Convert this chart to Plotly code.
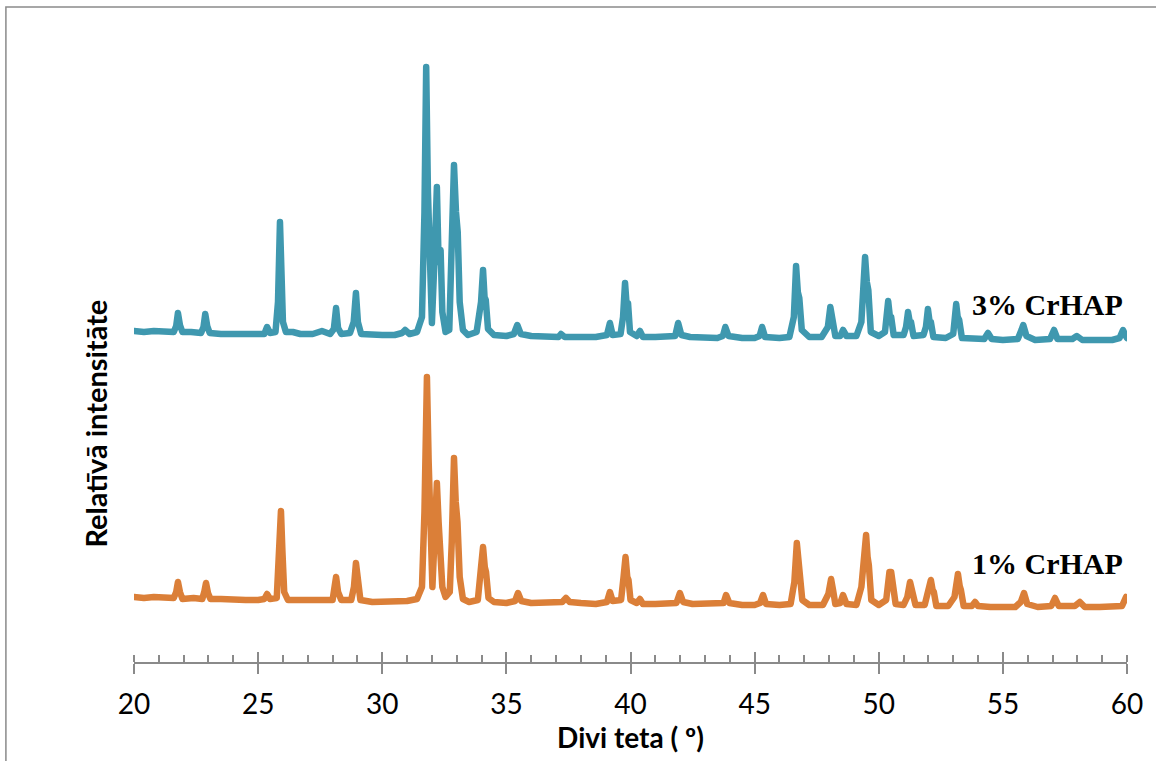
import plotly.graph_objects as go

# ---- data (2-theta in degrees, relative intensity in arbitrary units) ----
two_theta_3 = [20.00, 20.40, 20.80, 21.20, 21.60, 21.70, 21.77, 21.85, 21.95, 22.30, 22.70, 22.80, 22.87, 22.95, 23.05,
               23.50, 24.00, 24.50, 25.00, 25.25, 25.36, 25.48, 25.70, 25.80, 25.88, 25.94, 26.00, 26.12, 26.40, 26.70,
               27.20, 27.57, 27.90, 28.05, 28.14, 28.22, 28.35, 28.70, 28.85, 28.94, 29.02, 29.15, 29.60, 30.00, 30.50,
               30.80, 30.92, 31.10, 31.40, 31.60, 31.70, 31.77, 31.84, 31.92, 32.00, 32.10, 32.20, 32.27, 32.35, 32.42,
               32.55, 32.70, 32.80, 32.89, 32.97, 33.04, 33.12, 33.25, 33.45, 33.80, 33.98, 34.06, 34.12, 34.17, 34.26,
               34.50, 35.00, 35.30, 35.44, 35.58, 36.00, 36.60, 37.10, 37.20, 37.35, 38.00, 38.60, 39.05, 39.17, 39.28,
               39.60, 39.70, 39.78, 39.85, 39.90, 39.98, 40.25, 40.38, 40.50, 41.00, 41.50, 41.80, 41.92, 42.05, 42.40,
               43.00, 43.50, 43.72, 43.82, 43.95, 44.50, 45.00, 45.20, 45.30, 45.42, 46.00, 46.40, 46.58, 46.67, 46.74,
               46.80, 46.90, 47.20, 47.70, 47.95, 48.05, 48.12, 48.16, 48.25, 48.45, 48.56, 48.70, 49.10, 49.30, 49.45,
               49.52, 49.58, 49.68, 50.00, 50.25, 50.38, 50.45, 50.50, 50.60, 51.00, 51.10, 51.18, 51.25, 51.30, 51.40,
               51.80, 51.90, 51.98, 52.05, 52.10, 52.20, 52.70, 53.00, 53.12, 53.18, 53.24, 53.35, 53.80, 54.25, 54.40,
               54.55, 55.00, 55.60, 55.75, 55.82, 55.95, 56.30, 56.90, 57.06, 57.20, 57.80, 57.98, 58.20, 58.80, 59.40,
               59.70, 59.84, 59.95, 60.00]
intensity_3 = [331, 330, 331, 330, 330, 336, 349, 337, 330, 330, 329, 335, 348, 336, 329,
               328, 328, 327, 327, 328, 335, 329, 330, 360, 440, 380, 340, 330, 330, 328,
               328, 331, 328, 333, 354, 334, 328, 329, 340, 369, 340, 328, 327, 327, 327,
               329, 332, 328, 330, 345, 450, 595, 470, 370, 339, 400, 475, 400, 412, 350,
               330, 332, 400, 497, 450, 430, 360, 332, 327, 330, 360, 392, 365, 362, 333,
               327, 326, 328, 337, 328, 326, 326, 325, 328, 325, 325, 325, 327, 339, 327,
               328, 345, 379, 355, 359, 330, 326, 331, 325, 325, 325, 326, 339, 327, 325,
               325, 324, 326, 335, 326, 324, 324, 326, 335, 325, 324, 325, 345, 396, 370,
               364, 332, 325, 325, 335, 355, 340, 342, 326, 326, 332, 326, 326, 340, 405,
               380, 372, 330, 326, 330, 361, 345, 345, 327, 327, 335, 350, 340, 340, 326,
               327, 335, 353, 340, 340, 325, 324, 328, 358, 345, 342, 324, 323, 323, 329,
               323, 322, 323, 332, 337, 326, 322, 323, 332, 323, 323, 326, 322, 322, 322,
               324, 332, 326, 324]

two_theta_1 = [20.00, 20.40, 20.80, 21.20, 21.60, 21.70, 21.77, 21.85, 21.95, 22.40, 22.75, 22.83, 22.90, 22.98, 23.08,
               23.50, 24.00, 24.50, 25.00, 25.25, 25.36, 25.48, 25.75, 25.84, 25.92, 25.98, 26.05, 26.20, 26.60, 27.20,
               27.60, 28.00, 28.06, 28.14, 28.22, 28.35, 28.75, 28.86, 28.94, 29.02, 29.12, 29.60, 30.00, 30.50, 31.00,
               31.40, 31.60, 31.70, 31.80, 31.87, 31.94, 32.02, 32.10, 32.20, 32.27, 32.34, 32.42, 32.55, 32.72, 32.80,
               32.89, 32.96, 33.03, 33.12, 33.25, 33.50, 33.85, 33.98, 34.06, 34.13, 34.18, 34.28, 34.50, 35.00, 35.35,
               35.47, 35.60, 36.00, 36.60, 37.25, 37.40, 37.55, 38.00, 38.60, 39.05, 39.17, 39.28, 39.62, 39.72, 39.80,
               39.87, 39.92, 40.00, 40.25, 40.38, 40.50, 41.00, 41.50, 41.85, 41.99, 42.12, 42.50, 43.00, 43.50, 43.75,
               43.85, 43.98, 44.50, 45.00, 45.22, 45.34, 45.46, 46.00, 46.45, 46.60, 46.70, 46.76, 46.81, 46.92, 47.20,
               47.75, 47.97, 48.08, 48.16, 48.25, 48.45, 48.56, 48.70, 49.10, 49.30, 49.49, 49.55, 49.60, 49.70, 50.00,
               50.30, 50.43, 50.50, 50.55, 50.58, 50.68, 51.00, 51.15, 51.26, 51.33, 51.38, 51.48, 51.85, 51.98, 52.10,
               52.17, 52.22, 52.32, 52.80, 53.05, 53.19, 53.26, 53.31, 53.42, 53.75, 53.88, 54.00, 54.50, 55.00, 55.50,
               55.72, 55.85, 55.98, 56.40, 56.95, 57.10, 57.25, 57.90, 58.10, 58.30, 58.90, 59.50, 59.80, 59.96, 60.00]
intensity_1 = [65, 64, 65, 64, 64, 70, 80, 70, 63, 64, 63, 70, 79, 69, 63,
               63, 62, 62, 62, 63, 68, 63, 64, 100, 151, 110, 70, 62, 62, 61,
               61, 62, 72, 85, 70, 62, 62, 75, 99, 75, 62, 60, 60, 60, 61,
               63, 75, 150, 285, 200, 110, 75, 120, 179, 140, 110, 75, 65, 70, 120,
               204, 160, 140, 85, 63, 60, 62, 95, 115, 95, 90, 64, 60, 59, 61,
               69, 61, 59, 59, 60, 64, 60, 59, 58, 60, 70, 61, 62, 85, 105,
               85, 82, 62, 59, 63, 58, 58, 58, 59, 69, 60, 58, 58, 58, 59,
               67, 59, 57, 57, 59, 67, 58, 57, 58, 80, 119, 98, 92, 62, 57,
               57, 68, 83, 72, 58, 59, 67, 58, 57, 75, 127, 105, 97, 62, 57,
               62, 90, 90, 80, 74, 58, 57, 65, 80, 73, 70, 57, 57, 70, 82,
               72, 70, 56, 56, 65, 88, 76, 72, 56, 56, 60, 56, 55, 55, 55,
               60, 69, 58, 55, 56, 64, 56, 56, 60, 55, 55, 55, 56, 65, 62]

series_names = ["3% CrHAP", "1% CrHAP"]
series_colors = ["#3F98AF", "#DB7F38"]
x_ticks = [20, 25, 30, 35, 40, 45, 50, 55, 60]

fig = go.Figure()
fig.add_trace(go.Scatter(x=two_theta_3, y=intensity_3, mode="lines", name=series_names[0],
                         line=dict(color=series_colors[0], width=6.5)))
fig.add_trace(go.Scatter(x=two_theta_1, y=intensity_1, mode="lines", name=series_names[1],
                         line=dict(color=series_colors[1], width=6.5)))

label_font = dict(family="Liberation Serif", size=30, color="#000000")
fig.add_annotation(x=56.8, y=358, text="<b>3% CrHAP</b>", showarrow=False, font=label_font)
fig.add_annotation(x=56.8, y=99, text="<b>1% CrHAP</b>", showarrow=False, font=label_font)

# y-axis title
fig.add_annotation(xref="paper", yref="paper", x=-0.039, y=0.373, xanchor="center", yanchor="middle",
                   text="<b>Relatīvā intensitāte</b>", textangle=-90, showarrow=False,
                   font=dict(family="Lato", size=29, color="#000000"))

# outer chart border
fig.add_shape(type="rect", xref="paper", yref="paper", x0=-0.129, x1=1.04, y0=-0.2, y1=1.0234,
              line=dict(color="#8a8a8a", width=1.5), fillcolor="rgba(0,0,0,0)", layer="below")

fig.update_layout(
    width=1156, height=761,
    margin=dict(l=134, r=29, t=22, b=99, autoexpand=False),
    paper_bgcolor="white", plot_bgcolor="white",
    showlegend=False,
    xaxis=dict(range=[20, 60], tickvals=x_ticks, ticktext=[str(v) for v in x_ticks],
               showgrid=False, zeroline=False, showline=True, linecolor="#8a8a8a", linewidth=2,
               ticks="outside", ticklen=10, tickwidth=2, tickcolor="#8a8a8a",
               ticklabelstandoff=6,
               tickfont=dict(family="Lato", size=28, color="#000000"),
               minor=dict(dtick=1, tick0=20, ticks="inside", ticklen=7, tickwidth=1.5, tickcolor="#8a8a8a"),
               title=dict(text="<b>Divi teta ( º)</b>", font=dict(family="Lato", size=28, color="#000000"),
                          standoff=2)),
    xaxis2=dict(range=[20, 60], overlaying="x", anchor="y", side="bottom", tickvals=x_ticks,
                showticklabels=False, ticks="inside", ticklen=10, tickwidth=2, tickcolor="#8a8a8a",
                showgrid=False, zeroline=False, showline=False),
    yaxis=dict(range=[0, 640], visible=False),
)
# invisible helper trace so the overlay axis carrying the upper halves of major ticks is drawn
fig.add_trace(go.Scatter(x=[20, 60], y=[None, None], xaxis="x2", yaxis="y", mode="lines",
                         hoverinfo="skip", showlegend=False))

post = ("document.body.style.margin='0';"
        "document.querySelectorAll('.scatterlayer path.js-line').forEach(function(p){"
        "p.style.strokeLinejoin='round';p.style.strokeLinecap='round';});")
fig.write_html("out.html", config={"displayModeBar": False}, post_script=post)
